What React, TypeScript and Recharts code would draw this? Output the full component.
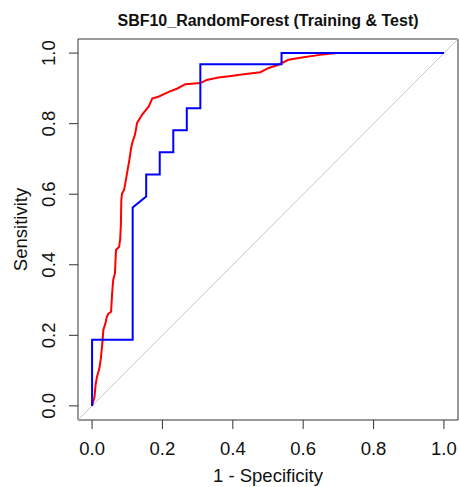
import React from 'react';
import { LineChart, Line, XAxis, YAxis, ReferenceArea } from 'recharts';

// Test set ROC (blue)
const testFpr = [0, 0, 0.1154, 0.1154, 0.1538, 0.1538, 0.1923, 0.1923, 0.2308, 0.2308, 0.2692, 0.2692, 0.3077, 0.3077, 0.5385, 0.5385, 1];
const testTpr = [0, 0.1875, 0.1875, 0.5625, 0.59375, 0.65625, 0.65625, 0.71875, 0.71875, 0.78125, 0.78125, 0.84375, 0.84375, 0.96875, 0.96875, 1, 1];

// Training set ROC (red)
const trainFpr = [
    0, 0.002, 0.007, 0.010, 0.014, 0.021, 0.025, 0.030, 0.032, 0.038, 0.042, 0.047, 0.054, 0.057, 0.060, 0.065,
    0.068, 0.077, 0.080, 0.082, 0.083, 0.085, 0.091, 0.096, 0.101, 0.106, 0.110, 0.114, 0.122, 0.128, 0.142,
    0.161, 0.171, 0.190, 0.218, 0.241, 0.265, 0.308, 0.326, 0.359, 0.384, 0.431, 0.478, 0.502, 0.530, 0.558,
    0.601, 0.648, 0.695, 1,
];
const trainTpr = [
    0, 0.008, 0.026, 0.060, 0.083, 0.107, 0.135, 0.187, 0.215, 0.234, 0.253, 0.262, 0.267, 0.319, 0.357, 0.376,
    0.442, 0.451, 0.475, 0.517, 0.580, 0.602, 0.612, 0.640, 0.669, 0.697, 0.725, 0.745, 0.769, 0.802, 0.825,
    0.849, 0.871, 0.877, 0.890, 0.899, 0.912, 0.915, 0.924, 0.931, 0.934, 0.940, 0.946, 0.958, 0.967, 0.981,
    0.988, 0.995, 1.0, 1,
];

const diagonal = [-0.04, 1.04];
const tickValues = [0, 0.2, 0.4, 0.6, 0.8, 1];
const tickLabels = ['0.0', '0.2', '0.4', '0.6', '0.8', '1.0'];

const FONT = '"Liberation Sans", Arial, sans-serif';
const INK = '#111';

const toPoints = (xs: number[], ys: number[]) => xs.map((x, i) => ({ x, y: ys[i] }));

const XTick = (props: any) => {
    const { x, y, payload } = props;
    const i = tickValues.indexOf(payload.value);
    return (
        <text x={x} y={y + 26} textAnchor="middle" fontSize={18.5} fontFamily={FONT} fill={INK}>
            {tickLabels[i]}
        </text>
    );
};

const YTick = (props: any) => {
    const { x, y, payload } = props;
    const i = tickValues.indexOf(payload.value);
    const bx = x - 14;
    return (
        <text x={bx} y={y} transform={`rotate(-90, ${bx}, ${y})`} textAnchor="middle"
            fontSize={18.5} fontFamily={FONT} fill={INK}>
            {tickLabels[i]}
        </text>
    );
};

const App: React.FC = () => {
    const testData = toPoints(testFpr, testTpr);
    const trainData = toPoints(trainFpr, trainTpr);
    const diagData = toPoints(diagonal, diagonal);

    return (
        <div style={{ position: 'absolute', left: 0, top: 0, width: 459, height: 487, background: '#fff' }}>
            <LineChart width={459} height={487} margin={{ top: 39, right: 1, bottom: 0, left: 0 }}>
                <XAxis
                    type="number"
                    dataKey="x"
                    domain={[-0.04, 1.04]}
                    ticks={tickValues}
                    interval={0}
                    allowDataOverflow
                    height={67}
                    tickSize={9}
                    tickMargin={0}
                    axisLine={false}
                    tickLine={{ stroke: '#333', strokeWidth: 1 }}
                    tick={<XTick />}
                />
                <YAxis
                    type="number"
                    dataKey="y"
                    domain={[-0.04, 1.04]}
                    ticks={tickValues}
                    interval={0}
                    allowDataOverflow
                    width={78}
                    tickSize={9}
                    tickMargin={0}
                    axisLine={false}
                    tickLine={{ stroke: '#333', strokeWidth: 1 }}
                    tick={<YTick />}
                />
                <ReferenceArea x1={-0.04} x2={1.04} y1={-0.04} y2={1.04} fill="none" fillOpacity={0}
                    stroke="#333" strokeWidth={1} strokeOpacity={1} />
                <Line data={diagData} dataKey="y" type="linear" stroke="#c8c8c8" strokeWidth={1}
                    dot={false} isAnimationActive={false} />
                <Line data={trainData} dataKey="y" type="linear" stroke="#ff0000" strokeWidth={2}
                    dot={false} isAnimationActive={false} />
                <Line data={testData} dataKey="y" type="linear" stroke="#0000ff" strokeWidth={2}
                    dot={false} isAnimationActive={false} />
            </LineChart>
            <svg width={459} height={487} style={{ position: 'absolute', left: 0, top: 0, pointerEvents: 'none' }}>
                <text x={268} y={26} textAnchor="middle" fontSize={16} fontWeight="bold" fontFamily={FONT} fill={INK}>
                    SBF10_RandomForest (Training &amp; Test)
                </text>
                <text x={268} y={482} textAnchor="middle" fontSize={18.5} fontFamily={FONT} fill={INK}>
                    1 - Specificity
                </text>
                <text x={27} y={229.5} transform="rotate(-90, 27, 229.5)" textAnchor="middle" fontSize={18.5}
                    fontFamily={FONT} fill={INK}>
                    Sensitivity
                </text>
            </svg>
        </div>
    );
};

export default App;
